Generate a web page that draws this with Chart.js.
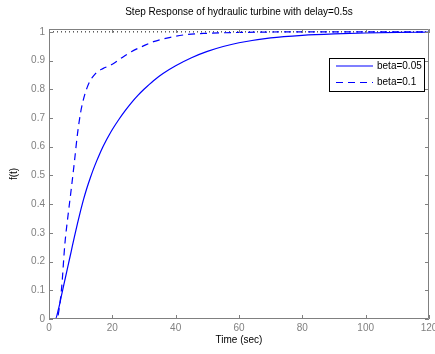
<!DOCTYPE html>
<html>
<head>
<meta charset="utf-8">
<script src="https://cdn.jsdelivr.net/npm/chart.js@4.4.1/dist/chart.umd.min.js"></script>
<style>
  html, body { margin: 0; padding: 0; background: #fff; }
</style>
</head>
<body>
<canvas id="grafico" width="435" height="354"></canvas>
<script>
// beta = 0.05 (linea continua)
const tiempoA = [0, 2, 3, 4, 5, 6, 7, 8, 9, 10, 11, 12, 13, 14, 15, 16, 17, 18, 19, 20, 22, 24, 26, 28, 30, 33, 36, 40, 45, 50, 55, 60, 70, 80, 90, 100, 110, 120];
const respA = [0, 0, 0.035, 0.085, 0.135, 0.185, 0.235, 0.285, 0.333, 0.378, 0.42, 0.457, 0.49, 0.521, 0.549, 0.575, 0.599, 0.621, 0.641, 0.66, 0.694, 0.725, 0.753, 0.778, 0.8, 0.83, 0.855, 0.882, 0.91, 0.932, 0.949, 0.962, 0.979, 0.988, 0.993, 0.996, 0.998, 0.999];

// beta = 0.1 (linea discontinua)
const tiempoB = [0, 2.5, 3, 4, 5, 6, 7, 8, 9, 10, 11, 12, 13, 14, 15, 17, 20, 23, 26, 30, 33, 38, 43, 50, 60, 80, 100, 120];
const respB = [0, 0, 0.02, 0.11, 0.26, 0.36, 0.45, 0.545, 0.645, 0.72, 0.77, 0.805, 0.83, 0.846, 0.858, 0.872, 0.887, 0.91, 0.931, 0.952, 0.966, 0.98, 0.99, 0.995, 0.998, 1, 1, 1];

// referencia en f(t) = 1
const refX = [0, 120];
const refY = [1, 1];

const etiquetas = ["beta=0.05", "beta=0.1"];
const ticksX = [0, 20, 40, 60, 80, 100, 120];
const ticksY = [0, 0.1, 0.2, 0.3, 0.4, 0.5, 0.6, 0.7, 0.8, 0.9, 1];

const FUENTE = "'Liberation Sans', Arial, sans-serif";
const GRIS = "#808080";

const puntos = (xs, ys) => xs.map((x, i) => ({ x: x, y: ys[i] }));

/* caja de ejes estilo MATLAB con ticks hacia dentro + leyenda */
const cajaMatlab = {
  id: "cajaMatlab",
  afterDatasetsDraw(chart) {
    const { ctx, chartArea: a, scales } = chart;
    const largo = 4;
    ctx.save();
    ctx.strokeStyle = GRIS;
    ctx.lineWidth = 1;
    ctx.beginPath();
    ctx.rect(a.left + 0.5, a.top + 0.5, a.right - a.left - 1, a.bottom - a.top - 1);
    ticksX.forEach(v => {
      const px = Math.round(scales.x.getPixelForValue(v)) + 0.5;
      ctx.moveTo(px, a.bottom); ctx.lineTo(px, a.bottom - largo);
      ctx.moveTo(px, a.top); ctx.lineTo(px, a.top + largo);
    });
    ticksY.forEach(v => {
      const py = Math.round(scales.y.getPixelForValue(v)) + 0.5;
      ctx.moveTo(a.left, py); ctx.lineTo(a.left + largo, py);
      ctx.moveTo(a.right, py); ctx.lineTo(a.right - largo, py);
    });
    ctx.stroke();
    ctx.restore();
  },
  afterDraw(chart) {
    const { ctx, chartArea: a } = chart;
    const w = 95, h = 33;
    const x0 = a.right - 5 - w, y0 = a.top + 29;
    ctx.save();
    ctx.fillStyle = "#fff";
    ctx.fillRect(x0, y0, w, h);
    ctx.strokeStyle = "#000";
    ctx.lineWidth = 1;
    ctx.strokeRect(x0 + 0.5, y0 + 0.5, w, h);
    ctx.font = "10px " + FUENTE;
    ctx.textBaseline = "middle";
    etiquetas.forEach((txt, i) => {
      const ds = chart.data.datasets[i];
      const yy = y0 + 8 + i * 16.5;
      ctx.strokeStyle = ds.borderColor;
      ctx.lineWidth = ds.borderWidth;
      ctx.setLineDash(ds.borderDash || []);
      ctx.beginPath();
      ctx.moveTo(x0 + 7, yy);
      ctx.lineTo(x0 + 44, yy);
      ctx.stroke();
      ctx.setLineDash([]);
      ctx.fillStyle = "#000";
      ctx.fillText(txt, x0 + 48, yy);
    });
    ctx.restore();
  },
};

new Chart(document.getElementById("grafico"), {
  type: "scatter",
  data: {
    datasets: [
      {
        label: etiquetas[0],
        data: puntos(tiempoA, respA),
        showLine: true,
        borderColor: "#0000ff",
        borderWidth: 1.2,
        pointRadius: 0,
        cubicInterpolationMode: "monotone",
      },
      {
        label: etiquetas[1],
        data: puntos(tiempoB, respB),
        showLine: true,
        borderColor: "#0000ff",
        borderWidth: 1.2,
        borderDash: [7, 5],
        pointRadius: 0,
        cubicInterpolationMode: "monotone",
      },
      {
        label: "ref",
        data: puntos(refX, refY),
        showLine: true,
        borderColor: "#000",
        borderWidth: 1,
        borderDash: [1, 3],
        pointRadius: 0,
      },
    ],
  },
  options: {
    responsive: false,
    animation: false,
    layout: { padding: { left: 0, right: 6, top: 0, bottom: 0 } },
    plugins: {
      legend: { display: false },
      tooltip: { enabled: false },
      title: {
        display: true,
        fullSize: false,
        text: "Step Response of hydraulic turbine with delay=0.5s",
        color: "#000",
        font: { family: FUENTE, size: 10, weight: "normal" },
        padding: { top: 6, bottom: 11 },
      },
    },
    scales: {
      x: {
        type: "linear",
        min: 0,
        max: 120,
        grid: { display: false, drawTicks: false },
        border: { display: false },
        ticks: {
          stepSize: 20,
          autoSkip: false,
          maxRotation: 0,
          padding: 3,
          color: GRIS,
          font: { family: FUENTE, size: 10 },
        },
        title: {
          display: true,
          text: "Time (sec)",
          color: "#000",
          font: { family: FUENTE, size: 10 },
          padding: { top: 2, bottom: 8 },
        },
        afterFit: (s) => { s.height = 35; s.paddingLeft = 0; s.paddingRight = 0; },
      },
      y: {
        min: 0,
        max: 1.01,
        grid: { display: false, drawTicks: false },
        border: { display: false },
        ticks: {
          stepSize: 0.1,
          includeBounds: false,
          autoSkip: false,
          padding: 4,
          color: GRIS,
          font: { family: FUENTE, size: 10 },
          callback: (v) => String(Number(v.toFixed(2))),
        },
        title: {
          display: true,
          text: "f(t)",
          color: "#000",
          font: { family: FUENTE, size: 10 },
          padding: { top: 8, bottom: 2 },
        },
        afterFit: (s) => { s.width = 49; s.paddingTop = 0; s.paddingBottom = 0; },
      },
    },
  },
  plugins: [cajaMatlab],
});
</script>
</body>
</html>
